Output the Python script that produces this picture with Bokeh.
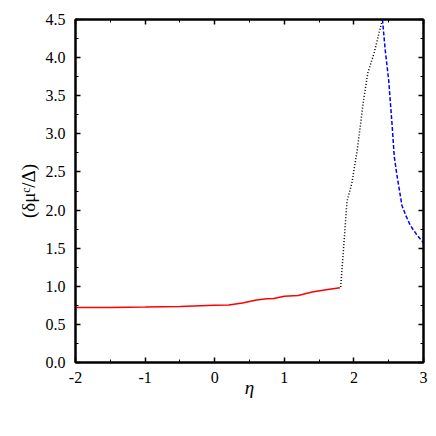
from bokeh.plotting import figure
from bokeh.models import LinearAxis, Range1d, FixedTicker, PrintfTickFormatter
from bokeh.embed import file_html
from bokeh.resources import INLINE

red_x = [-2.0, -1.5, -1.0, -0.5, 0.0, 0.2, 0.4, 0.6, 0.75, 0.85, 1.0, 1.2, 1.4, 1.6, 1.8]
red_y = [0.72, 0.722, 0.728, 0.735, 0.75, 0.755, 0.78, 0.82, 0.835, 0.84, 0.87, 0.88, 0.925, 0.955, 0.98]

black_x = [1.81, 1.86, 1.90, 1.97, 2.05, 2.14, 2.20, 2.29, 2.41]
black_y = [0.99, 1.60, 2.11, 2.35, 2.80, 3.45, 3.80, 4.06, 4.50]

blue_x = [2.41, 2.45, 2.50, 2.55, 2.58, 2.62, 2.69, 2.75, 2.81, 2.90, 3.00]
blue_y = [4.50, 4.10, 3.70, 3.10, 2.70, 2.45, 2.06, 1.92, 1.80, 1.68, 1.57]

x_ticks = [-2, -1, 0, 1, 2, 3]
y_ticks = [0.0, 0.5, 1.0, 1.5, 2.0, 2.5, 3.0, 3.5, 4.0, 4.5]
x_minor = [-1.5, -0.5, 0.5, 1.5, 2.5]
y_minor = [0.25, 0.75, 1.25, 1.75, 2.25, 2.75, 3.25, 3.75, 4.25]

FONT = "Liberation Serif"

p = figure(width=428, height=420, output_backend="svg", toolbar_location=None,
           x_range=Range1d(-2, 3), y_range=Range1d(0, 4.5),
           x_axis_location=None, y_axis_location=None,
           min_border_left=75, min_border_right=5, min_border_top=19, min_border_bottom=58)
p.grid.visible = False
p.outline_line_color = "black"
p.outline_line_width = 2
p.background_fill_color = "white"
p.border_fill_color = "white"

def make_axis(ticks, minor, fmt, labels=True, label=""):
    ax = LinearAxis(ticker=FixedTicker(ticks=ticks, minor_ticks=minor),
                    formatter=PrintfTickFormatter(format=fmt))
    ax.major_tick_in = 5
    ax.major_tick_out = 0
    ax.minor_tick_in = 3
    ax.minor_tick_out = 0
    ax.axis_line_width = 2
    ax.major_tick_line_width = 1.5
    ax.minor_tick_line_width = 1
    ax.major_label_text_font = FONT
    ax.major_label_text_font_size = "16px"
    ax.major_label_text_color = "black"
    if not labels:
        ax.major_label_text_alpha = 0
        ax.major_label_text_font_size = "1px"
    if label:
        ax.axis_label = label
        ax.axis_label_text_font = FONT
        ax.axis_label_text_font_size = "19px"
        ax.axis_label_text_font_style = "normal"
        ax.axis_label_text_color = "black"
    return ax

bx = make_axis(x_ticks, x_minor, "%d", True, "η")
bx.axis_label_text_font_style = "italic"
bx.axis_label_standoff = -9
bx.major_label_standoff = 9
p.add_layout(bx, "below")
ly = make_axis(y_ticks, y_minor, "%.1f", True, "(δμᶜ/Δ)")
ly.major_label_standoff = 10
ly.axis_label_standoff = 4
p.add_layout(ly, "left")
tx = make_axis(x_ticks, x_minor, "%d", False)
p.add_layout(tx, "above")
ry = make_axis(y_ticks, y_minor, "%.1f", False)
p.add_layout(ry, "right")

p.line(red_x, red_y, line_color="#ff0000", line_width=1.5)
p.line(black_x, black_y, line_color="black", line_width=1.5, line_dash="1 2")
p.line(blue_x, blue_y, line_color="#0000ff", line_width=1.5, line_dash="4 2")

open("out.html", "w").write(file_html(p, INLINE))
